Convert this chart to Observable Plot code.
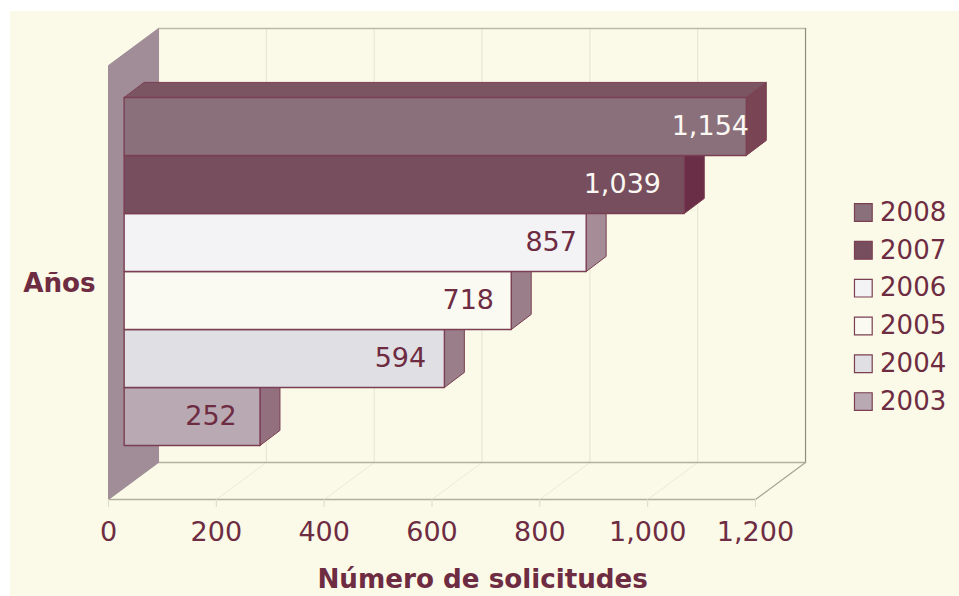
<!DOCTYPE html>
<html><head><meta charset="utf-8">
<script src="https://cdn.jsdelivr.net/npm/d3@7"></script>
<script src="https://cdn.jsdelivr.net/npm/@observablehq/plot@0.6"></script>
<style>
html,body{margin:0;padding:0;background:#fff;overflow:hidden}
#wrap{position:absolute;left:0;top:0;width:959px;height:596px}
#panel{position:absolute;left:10px;top:11px;right:0;bottom:0;background:#fbf9e7}
#chart{position:absolute;left:0;top:0}
svg{background:transparent!important;font-family:"DejaVu Sans",Verdana,sans-serif}
</style></head>
<body><div id="wrap"><div id="panel"></div><div id="chart"></div></div>
<script>
const years  = [2003, 2004, 2005, 2006, 2007, 2008];
const values = [252, 594, 718, 857, 1039, 1154];
const ticks  = [0, 200, 400, 600, 800, 1000, 1200];
const labelShift = [-49, -44, -43, -35, -62, -36];
const faceColors = ["#b9a9b3", "#e0dfe4", "#fbfaf2", "#f3f2f4", "#764e5d", "#8a707b"];
const sideColors = ["#93707e", "#9a7f8a", "#9a7f8a", "#a58c97", "#6a2e47", "#794555"];
const labelColors = ["#6e2c42", "#6e2c42", "#6e2c42", "#6e2c42", "#fbf7f2", "#fbf7f2"];
const ink = "#6e2c42";
const edge = "#7a3f52";

// Depth of the box and of the bars, in scale units (x: solicitudes, y: rows)
const boxDX = 92.8, boxDY = 0.638, floorY = -0.931, wallTop = 6.552;
const inset = 29, barDX = 37, barDY = 0.26;
const xMax = 1200;

const poly = (pts, fill, stroke, strokeWidth = 1) =>
  Plot.line([...pts, pts[0]], {x: d => d[0], y: d => d[1], fill, stroke, strokeWidth, curve: "linear"});
const seg = (a, b, stroke, strokeWidth = 1) =>
  Plot.line([a, b], {x: d => d[0], y: d => d[1], stroke, strokeWidth});

const marks = [];
// back wall and left wall
const topBack = wallTop + boxDY, floorBack = floorY + boxDY;
for (const t of ticks.slice(1, -1)) {
  marks.push(seg([t + boxDX, floorBack], [t + boxDX, topBack], "#e6e4d0"));
  marks.push(seg([t, floorY], [t + boxDX, floorBack], "#ecead8"));
}
marks.push(seg([boxDX, topBack], [xMax + boxDX, topBack], "#bdbba8", 1.5));
marks.push(seg([xMax + boxDX, floorBack], [xMax + boxDX, topBack], "#8f8e7e", 1.2));
marks.push(seg([boxDX, floorBack], [xMax + boxDX, floorBack], "#b3b0a0", 1.5));
marks.push(seg([xMax, floorY], [xMax + boxDX, floorBack], "#a5a393", 1.2));
marks.push(seg([0, floorY], [xMax, floorY], "#b3b0a0", 1.5));
marks.push(poly([[0, floorY], [0, wallTop], [boxDX, topBack], [boxDX, floorBack]], "#a08d97", "#a08d97"));

// bars: lower rows first, upper rows overlap them
years.forEach((y, i) => {
  const x0 = inset, x1 = inset + values[i], y0 = i, y1 = i + 1;
  marks.push(poly([[x1, y0], [x1, y1], [x1 + barDX, y1 + barDY], [x1 + barDX, y0 + barDY]], sideColors[i], edge));
  if (i === years.length - 1)
    marks.push(poly([[x0, y1], [x1, y1], [x1 + barDX, y1 + barDY], [x0 + barDX, y1 + barDY]], "#7b5562", edge));
  marks.push(poly([[x0, y0], [x1, y0], [x1, y1], [x0, y1]], faceColors[i], edge, 1.4));
  marks.push(Plot.text([values[i]], {
    x: d => inset + d, y: () => y0 + 0.5, dx: labelShift[i],
    text: d => d3.format(",")(d), fill: labelColors[i], fontSize: 27
  }));
});

// axis
marks.push(Plot.axisX(ticks, {
  anchor: "bottom", tickSize: 8, tickPadding: 14, tickFormat: d3.format(","),
  fontSize: 27, stroke: "#dcdbc8", color: ink, fill: ink, label: null
}));
marks.push(Plot.text(["Número de solicitudes"], {
  x: () => 694, y: () => -2.31, text: d => d, fill: ink, fontSize: 26.2, fontWeight: "bold"
}));
marks.push(Plot.text(["Años"], {
  x: () => -91, y: () => 2.79, text: d => d, fill: ink, fontSize: 26.2, fontWeight: "bold"
}));

// legend
const legendX = 1400, legendTextX = 1431, legendTop = 4.017, legendStep = 0.652;
const order = d3.range(years.length).reverse();
marks.push(Plot.dot(order, {
  x: () => legendX, y: (d, k) => legendTop - k * legendStep, symbol: "square", r: 10,
  fill: d => faceColors[d], stroke: edge, strokeWidth: 1.2
}));
marks.push(Plot.text(order, {
  x: () => legendTextX, y: (d, k) => legendTop - k * legendStep,
  text: d => String(years[d]), fill: ink, fontSize: 26, textAnchor: "start"
}));

const chart = Plot.plot({
  width: 959, height: 596,
  marginLeft: 0, marginRight: 0, marginTop: 0, marginBottom: 97,
  style: {background: "transparent", fontFamily: '"DejaVu Sans", Verdana, sans-serif'},
  x: {domain: [0, xMax], range: [108, 755], axis: null},
  y: {domain: [0, 6], range: [445, 97], axis: null},
  marks
});
document.getElementById("chart").appendChild(chart);
</script></body></html>
